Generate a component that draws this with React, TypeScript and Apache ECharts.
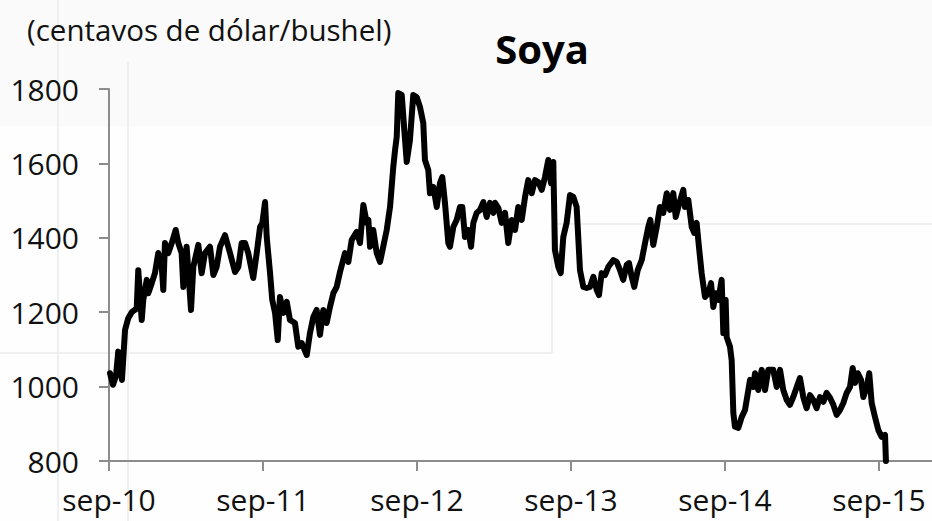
import React, { useEffect, useRef } from "react";
import * as echarts from "echarts";

// months elapsed since September 2010
const months: number[] = [
  0.08, 0.31, 0.55, 0.72, 1.01, 1.25, 1.50, 1.77, 2.16, 2.28, 2.55, 2.67, 2.94, 3.06, 3.33, 3.58,
  3.84, 4.11, 4.23, 4.36, 4.62, 4.89, 5.20, 5.40, 5.66, 5.79, 6.05, 6.39, 6.57, 6.96, 7.22, 7.48,
  7.87, 8.13, 8.39, 8.65, 9.04, 9.43, 9.82, 10.08, 10.34, 10.60, 10.85, 11.24, 11.51, 11.77, 11.95,
  12.16, 12.29, 12.55, 12.72, 12.94, 13.15, 13.32, 13.58, 13.85, 14.10, 14.49, 14.75, 15.02, 15.41,
  15.66, 15.92, 16.18, 16.44, 16.70, 16.96, 17.22, 17.48, 17.74, 18.00, 18.39, 18.65, 18.91, 19.30,
  19.56, 19.82, 20.08, 20.21, 20.34, 20.59, 20.86, 21.12, 21.37, 21.64, 21.90, 22.15, 22.29, 22.42,
  22.54, 22.81, 23.01, 23.20, 23.45, 23.71, 23.98, 24.23, 24.49, 24.62, 24.88, 25.01, 25.27, 25.54,
  25.79, 25.97, 26.18, 26.44, 26.57, 26.83, 27.09, 27.35, 27.53, 27.74, 28.00, 28.21, 28.39, 28.65,
  28.91, 29.17, 29.43, 29.69, 29.95, 30.08, 30.34, 30.60, 30.86, 31.11, 31.38, 31.64, 31.89, 32.16,
  32.42, 32.67, 32.94, 33.19, 33.45, 33.72, 33.97, 34.23, 34.44, 34.62, 34.75, 35.01, 35.20, 35.40,
  35.66, 35.92, 36.18, 36.44, 36.70, 36.96, 37.22, 37.48, 37.74, 38.00, 38.18, 38.39, 38.65, 38.91,
  39.30, 39.56, 39.82, 40.07, 40.34, 40.52, 40.73, 40.93, 41.20, 41.51, 41.77, 42.02, 42.18, 42.41,
  42.68, 42.93, 43.19, 43.46, 43.71, 43.97, 44.16, 44.36, 44.75, 44.88, 45.14, 45.41, 45.61, 45.79,
  45.97, 46.18, 46.44, 46.70, 46.91, 47.09, 47.27, 47.48, 47.74, 47.87, 48.05, 48.13, 48.39, 48.52,
  48.65, 48.78, 49.04, 49.30, 49.56, 49.82, 49.95, 50.21, 50.34, 50.59, 50.86, 51.12, 51.37, 51.76,
  52.03, 52.29, 52.54, 52.81, 53.06, 53.32, 53.59, 53.84, 54.10, 54.36, 54.62, 54.88, 55.14, 55.40,
  55.66, 55.92, 56.18, 56.44, 56.70, 56.96, 57.22, 57.48, 57.74, 57.95, 58.13, 58.34, 58.60, 58.78,
  59.04, 59.24, 59.43, 59.69, 59.95, 60.21, 60.47, 60.54,
];

// soybean price, US cents per bushel
const prices: number[] = [
  1036, 1005, 1030, 1094, 1018, 1152, 1184, 1200, 1210, 1313, 1179, 1233, 1287, 1251, 1278, 1305,
  1359, 1322, 1260, 1386, 1359, 1386, 1421, 1386, 1359, 1268, 1376, 1206, 1322, 1381, 1305, 1359,
  1376, 1300, 1322, 1376, 1407, 1359, 1308, 1322, 1386, 1386, 1359, 1292, 1359, 1429, 1440,
  1496, 1402, 1305, 1233, 1198, 1125, 1241, 1198, 1228, 1179, 1171, 1107, 1117, 1085,
  1144, 1187, 1206, 1139, 1206, 1171, 1214, 1251, 1268, 1308, 1359, 1335, 1394, 1416,
  1386, 1488, 1440, 1448, 1376, 1421, 1359, 1335, 1376, 1421, 1483, 1590, 1636, 1671,
  1789, 1784, 1690, 1604, 1663, 1784, 1778, 1752, 1708, 1609, 1582, 1520, 1537, 1483,
  1547, 1563, 1494, 1386, 1376, 1429, 1448, 1483, 1483, 1402, 1421, 1376, 1440, 1467,
  1475, 1496, 1456, 1494, 1467, 1494, 1480, 1440, 1467, 1386, 1448, 1421, 1483, 1448,
  1510, 1555, 1520, 1555, 1550, 1529, 1563, 1609, 1547, 1604, 1367, 1322, 1305, 1402,
  1440, 1515, 1510, 1483, 1313, 1268, 1265, 1268, 1295, 1260, 1246, 1305, 1300, 1322,
  1340, 1335, 1313, 1287, 1327, 1332, 1295, 1268, 1313, 1340, 1386, 1429, 1448, 1381,
  1429, 1483, 1467, 1520, 1475, 1520, 1456, 1483, 1529, 1483, 1502, 1429, 1413, 1440,
  1376, 1305, 1241, 1251, 1278, 1214, 1251, 1233, 1287, 1144, 1233, 1133, 1107, 1071,
  929, 892, 889, 918, 937, 991, 1018, 999, 1036, 991, 1045, 991, 1045, 1045,
  999, 1045, 991, 964, 951, 972, 999, 1023, 972, 942, 977, 964, 942, 972,
  959, 983, 970, 951, 924, 937, 956, 983, 999, 1050, 1010, 1036, 1018, 972,
  999, 1036, 956, 918, 883, 865, 870, 800,
];

const tickMonths: number[] = [0, 12, 24, 36, 48, 60];
const tickLabels: string[] = ["sep-10", "sep-11", "sep-12", "sep-13", "sep-14", "sep-15"];
const yTicks: number[] = [800, 1000, 1200, 1400, 1600, 1800];

const titleText = "Soya";
const unitText = "(centavos de dólar/bushel)";

const FONT = "'Open Sans', 'Noto Sans', sans-serif";

export default function App() {
  const ref = useRef<HTMLDivElement>(null);

  useEffect(() => {
    if (!ref.current) return;
    const chart = echarts.init(ref.current, null, { renderer: "svg" });
    const data = months.map((m, i) => [m, prices[i]]);
    const faint = { stroke: "#ebebeb", lineWidth: 1.5 };
    chart.setOption({
      animation: false,
      backgroundColor: "#fefefe",
      grid: { left: 109, right: 0, top: 89, bottom: 60, containLabel: false },
      graphic: [
        { type: "rect", shape: { x: 0, y: 0, width: 932, height: 126 }, style: { fill: "#fafafa" }, z: -10, silent: true },
        { type: "line", shape: { x1: 58, y1: 0, x2: 58, y2: 521 }, style: faint, z: -5, silent: true },
        { type: "line", shape: { x1: 128, y1: 62, x2: 128, y2: 521 }, style: faint, z: -5, silent: true },
        { type: "line", shape: { x1: 0, y1: 353, x2: 552, y2: 353 }, style: faint, z: -5, silent: true },
        { type: "line", shape: { x1: 552, y1: 224, x2: 552, y2: 353 }, style: faint, z: -5, silent: true },
        { type: "line", shape: { x1: 552, y1: 224, x2: 932, y2: 224 }, style: faint, z: -5, silent: true },
        {
          type: "text",
          left: 27,
          top: 14,
          style: { text: unitText, font: `29.5px ${FONT}`, fill: "#111" },
        },
        {
          type: "text",
          x: 542,
          y: 28,
          style: { text: titleText, font: `bold 40px ${FONT}`, fill: "#000", textAlign: "center" },
        },
      ],
      xAxis: {
        type: "value",
        min: 0,
        max: 64.13,
        interval: 12,
        axisLine: { show: true, lineStyle: { color: "#8c8c8c", width: 2 } },
        axisTick: { show: true, length: 10, inside: false, customValues: tickMonths, lineStyle: { color: "#8c8c8c", width: 2 } },
        axisLabel: {
          customValues: tickMonths,
          margin: 23,
          fontSize: 30,
          fontFamily: FONT,
          color: "#111",
          formatter: (v: number) => {
            const i = tickMonths.indexOf(Math.round(v));
            return i >= 0 && Math.abs(v - tickMonths[i]) < 0.01 ? tickLabels[i] : "";
          },
        },
        splitLine: { show: false },
      },
      yAxis: {
        type: "value",
        min: yTicks[0],
        max: yTicks[yTicks.length - 1],
        interval: 200,
        axisLine: { show: true, lineStyle: { color: "#8c8c8c", width: 2 } },
        axisTick: { show: true, length: 10, lineStyle: { color: "#8c8c8c", width: 2 } },
        axisLabel: {
          margin: 30,
          fontSize: 30,
          fontFamily: FONT,
          color: "#111",
          formatter: (v: number) => String(v),
        },
        splitLine: { show: false },
      },
      series: [
        {
          type: "line",
          data,
          showSymbol: false,
          symbol: "none",
          clip: true,
          lineStyle: { color: "#000", width: 6, join: "round", cap: "round" },
          z: 5,
        },
      ],
    });
    return () => chart.dispose();
  }, []);

  return (
    <div
      ref={ref}
      style={{ position: "absolute", left: 0, top: 0, width: 932, height: 521 }}
    />
  );
}
